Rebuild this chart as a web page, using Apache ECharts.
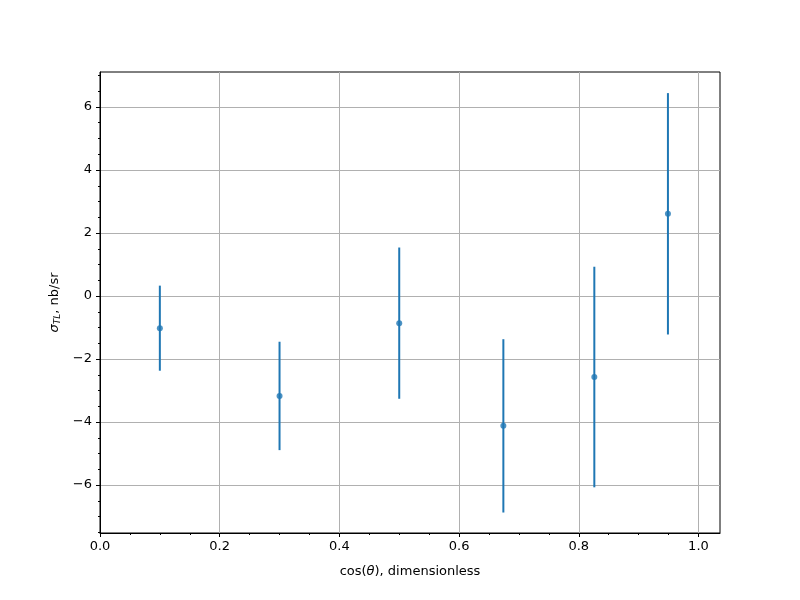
<!DOCTYPE html>
<html><head><meta charset="utf-8">
<script src="https://cdn.jsdelivr.net/npm/echarts@6/dist/echarts.min.js"></script>
<style>html,body{margin:0;padding:0;background:#fff}#c{width:800px;height:600px}</style>
</head><body><div id="c"></div>
<script>
const cosTheta = [0.1, 0.3, 0.5, 0.674, 0.826, 0.949];
const sigmaTL = [-1.02, -3.17, -0.86, -4.12, -2.57, 2.61];
const sigmaErr = [1.35, 1.72, 2.40, 2.75, 3.50, 3.83];
const xMajorTicks = [0, 0.2, 0.4, 0.6, 0.8, 1.0];
const xMinorTicks = [0.05, 0.1, 0.15, 0.25, 0.3, 0.35, 0.45, 0.5, 0.55, 0.65, 0.7, 0.75, 0.85, 0.9, 0.95];
const yMajorTicks = [-6, -4, -2, 0, 2, 4, 6];
const yMinorTicks = [-7.5, -7, -6.5, -5.5, -5, -4.5, -3.5, -3, -2.5, -1.5, -1, -0.5, 0.5, 1, 1.5, 2.5, 3, 3.5, 4.5, 5, 5.5, 6.5, 7];
const xRange = [0, 1.036];
const yRange = [-7.52, 7.11];

const FONT = 'DejaVu Sans';
const blue = '#1f77b4';
const chart = echarts.init(document.getElementById('c'), null, {renderer: 'canvas'});
const minus = v => (v < 0 ? '\u2212' + Math.abs(v) : String(v));

chart.setOption({
  animation: false,
  backgroundColor: '#fff',
  grid: {left: 100, right: 80, top: 72, bottom: 67, show: true, borderColor: '#000', borderWidth: 1, backgroundColor: 'transparent'},
  xAxis: [{
    type: 'value', min: xRange[0], max: xRange[1],
    axisLine: {show: true, onZero: false, lineStyle: {color: '#000', width: 1}},
    axisTick: {show: true, length: 4, customValues: xMajorTicks, lineStyle: {color: '#000', width: 1}},
    axisLabel: {customValues: xMajorTicks, formatter: v => v.toFixed(1), color: '#000', fontFamily: FONT, fontSize: 13, margin: 7},
    splitLine: {show: true, lineStyle: {color: '#b0b0b0', width: 1}},
    name: '{n|cos(}{i|θ}{n|), dimensionless}', nameLocation: 'middle', nameGap: 32,
    nameTextStyle: {rich: {n: {fontFamily: FONT, fontSize: 13, color: '#000'}, i: {fontFamily: FONT, fontSize: 13, fontStyle: 'italic', color: '#000'}}}
  }, {
    type: 'value', min: xRange[0], max: xRange[1], position: 'bottom',
    axisLine: {show: false, onZero: false},
    axisTick: {show: true, length: 2, customValues: xMinorTicks, lineStyle: {color: '#000', width: 1}},
    axisLabel: {show: false}, splitLine: {show: false}
  }],
  yAxis: [{
    type: 'value', min: yRange[0], max: yRange[1],
    axisLine: {show: true, onZero: false, lineStyle: {color: '#000', width: 1}},
    axisTick: {show: true, length: 4, customValues: yMajorTicks, lineStyle: {color: '#000', width: 1}},
    axisLabel: {customValues: yMajorTicks, formatter: minus, color: '#000', fontFamily: FONT, fontSize: 13, margin: 8},
    splitLine: {show: true, lineStyle: {color: '#b0b0b0', width: 1}},
    name: '{i|σ}{s|TL}{n|, nb/sr}', nameLocation: 'middle', nameGap: 38, nameRotate: 90,
    nameTextStyle: {rich: {
      n: {fontFamily: FONT, fontSize: 13, color: '#000'},
      i: {fontFamily: FONT, fontSize: 13, fontStyle: 'italic', color: '#000'},
      s: {fontFamily: FONT, fontSize: 9, fontStyle: 'italic', color: '#000', padding: [6, 0, 0, 0]}
    }}
  }, {
    type: 'value', min: yRange[0], max: yRange[1], position: 'left',
    axisLine: {show: false, onZero: false},
    axisTick: {show: true, length: 2, customValues: yMinorTicks, lineStyle: {color: '#000', width: 1}},
    axisLabel: {show: false}, splitLine: {show: false}
  }],
  series: [{
    type: 'custom', xAxisIndex: 0, yAxisIndex: 0,
    data: cosTheta.map((x, i) => [x, sigmaTL[i] - sigmaErr[i], sigmaTL[i] + sigmaErr[i]]),
    encode: {x: 0, y: [1, 2]},
    renderItem: (params, api) => {
      const p1 = api.coord([api.value(0), api.value(1)]);
      const p2 = api.coord([api.value(0), api.value(2)]);
      return {type: 'line', shape: {x1: p1[0], y1: p1[1], x2: p2[0], y2: p2[1]}, style: {stroke: blue, lineWidth: 2}};
    },
    z: 3
  }, {
    type: 'scatter', xAxisIndex: 0, yAxisIndex: 0,
    data: cosTheta.map((x, i) => [x, sigmaTL[i]]),
    symbol: 'circle', symbolSize: 6, itemStyle: {color: blue}, z: 4
  }]
});
</script></body></html>
